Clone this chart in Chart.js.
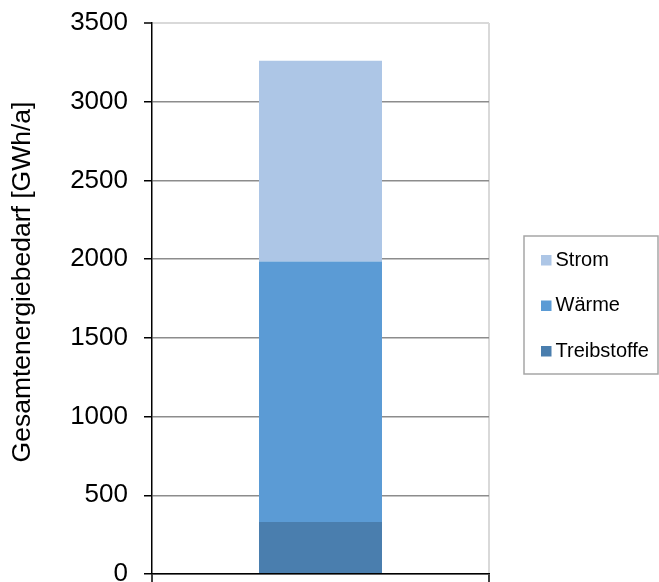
<!DOCTYPE html>
<html>
<head>
<meta charset="utf-8">
<script src="https://cdn.jsdelivr.net/npm/chart.js@4/dist/chart.umd.min.js"></script>
<style>
  html, body { margin: 0; padding: 0; background: #ffffff; }
  #wrap { width: 659px; height: 582px; }
  canvas { display: block; }
</style>
</head>
<body>
<div id="wrap"><canvas id="chart" width="659" height="582"></canvas></div>
<script>
// Energy demand, stacked by carrier (GWh/a)
const categories = [''];
const seriesNames = ['Treibstoffe', 'Wärme', 'Strom'];
const treibstoffe = [330];
const waerme = [1655];
const strom = [1275];
const seriesColors = ['#4a7eae', '#5b9bd5', '#adc6e6'];
const yMin = 0;
const yMax = 3500;
const yStep = 500;
const yTitle = 'Gesamtenergiebedarf [GWh/a]';

const FONT = '"Liberation Sans", Arial, sans-serif';

// Rotated y-axis caption
const axisCaption = {
  id: 'axisCaption',
  afterDraw(chart) {
    const ctx = chart.ctx;
    ctx.save();
    ctx.translate(23, 282);
    ctx.rotate(-Math.PI / 2);
    ctx.font = '26.5px ' + FONT;
    ctx.fillStyle = '#000000';
    ctx.textAlign = 'center';
    ctx.textBaseline = 'middle';
    ctx.fillText(yTitle, 0, 0);
    ctx.restore();
  }
};

// Framed legend on the right, top entry = top of the stack
const framedLegend = {
  id: 'framedLegend',
  afterDraw(chart) {
    const ctx = chart.ctx;
    const box = { x: 524, y: 236, w: 134, h: 138 };
    ctx.save();
    ctx.strokeStyle = '#a6a6a6';
    ctx.lineWidth = 1.5;
    ctx.strokeRect(box.x, box.y, box.w, box.h);
    ctx.font = '20px ' + FONT;
    ctx.textBaseline = 'middle';
    ctx.textAlign = 'left';
    const ds = chart.data.datasets.slice().reverse();
    ds.forEach((d, i) => {
      const yc = box.y + 24 + i * 45.5;
      ctx.fillStyle = d.backgroundColor;
      ctx.fillRect(box.x + 17, yc - 5, 10.5, 10.5);
      ctx.fillStyle = '#000000';
      ctx.fillText(d.label, box.x + 31.5, yc);
    });
    ctx.restore();
  }
};

const yTickValues = [];
for (let v = yMin; v <= yMax; v += yStep) yTickValues.push(v);

new Chart(document.getElementById('chart'), {
  type: 'bar',
  data: {
    labels: categories,
    datasets: [
      { label: seriesNames[0], data: treibstoffe, backgroundColor: seriesColors[0] },
      { label: seriesNames[1], data: waerme, backgroundColor: seriesColors[1] },
      { label: seriesNames[2], data: strom, backgroundColor: seriesColors[2] }
    ]
  },
  options: {
    responsive: false,
    devicePixelRatio: 1,
    animation: false,
    layout: { padding: { left: 0, right: 170, top: 23, bottom: 0 } },
    datasets: { bar: { categoryPercentage: 1, barPercentage: 0.365, borderWidth: 0 } },
    plugins: {
      legend: { display: false },
      tooltip: { enabled: false }
    },
    scales: {
      x: {
        type: 'category',
        stacked: true,
        offset: true,
        ticks: { display: false },
        grid: {
          offset: true,
          drawOnChartArea: true,
          drawTicks: true,
          tickLength: 8,
          lineWidth: 2,
          color: (c) => (c.index === 0 ? 'rgba(0,0,0,0)' : '#d9d9d9'),
          tickColor: '#000000',
          tickWidth: 1.5
        },
        border: { display: true, color: '#000000', width: 1.5, z: 1 },
        afterFit(scale) { scale.height = 8; }
      },
      y: {
        stacked: true,
        min: yMin,
        max: yMax,
        afterBuildTicks(scale) {
          scale.ticks = yTickValues.map(v => ({ value: v }));
        },
        ticks: {
          stepSize: yStep,
          padding: 16,
          color: '#000000',
          font: { family: FONT, size: 26 },
          callback: (v) => String(v)
        },
        grid: {
          drawTicks: true,
          tickLength: 8,
          tickColor: '#000000',
          tickWidth: 1.5,
          color: (c) => (c.tick && c.tick.value === yMax ? '#d9d9d9' : '#8c8c8c'),
          lineWidth: (c) => (c.tick && c.tick.value === yMax ? 2 : 1.5)
        },
        border: { display: true, color: '#000000', width: 1.5, z: 1 },
        afterFit(scale) {
          scale.width = 152;
          scale.paddingTop = 0;
          scale.paddingBottom = 0;
        }
      }
    }
  },
  plugins: [axisCaption, framedLegend]
});
</script>
</body>
</html>
